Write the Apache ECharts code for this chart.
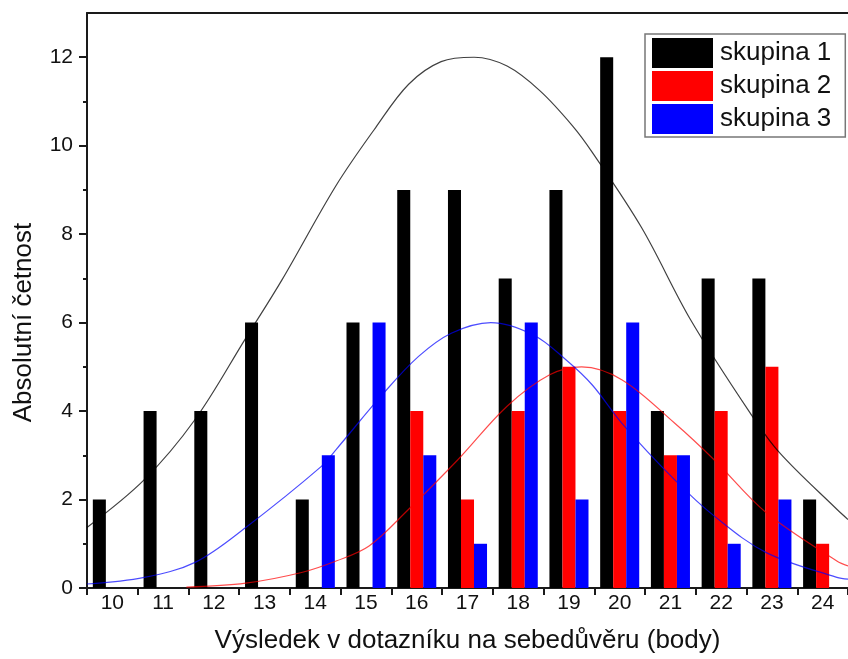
<!DOCTYPE html>
<html>
<head>
<meta charset="utf-8">
<script src="https://cdn.jsdelivr.net/npm/echarts@6/dist/echarts.min.js"></script>
<style>
    html, body { margin: 0; padding: 0; background: #fff; }
    #chart { width: 848px; height: 659px; }
</style>
</head>
<body>
<div id="chart"></div>
<script>
// body score categories
const categories = ['10', '11', '12', '13', '14', '15', '16', '17', '18', '19', '20', '21', '22', '23', '24']
const skupina1 = [2, 4, 4, 6, 2, 6, 9, 9, 7, 9, 12, 4, 7, 7, 2]
const skupina2 = [0, 0, 0, 0, 0, 0, 4, 2, 4, 5, 4, 3, 4, 5, 1]
const skupina3 = [0, 0, 0, 0, 3, 6, 3, 1, 6, 2, 6, 3, 1, 2, 0]
const yTicks = [0, 2, 4, 6, 8, 10, 12]
const yMinorTicks = [1, 3, 5, 7, 9, 11]

// fitted curves, points [score, count]
const fit1 = [[9.5, 1.37], [10.63, 2.45], [11.63, 3.81], [12.63, 5.65], [13.34, 6.96], [14.41, 9.1],
    [15.19, 10.41], [15.84, 11.39], [16.48, 11.9], [17.13, 12.0], [17.78, 11.8], [18.43, 11.24],
    [19.07, 10.45], [19.46, 9.85], [20.43, 8.15], [21.4, 6.06], [22.57, 3.96], [23.15, 3.06],
    [24.28, 1.78], [24.5, 1.55]]
const fit2 = [[11.46, 0.02], [12.63, 0.11], [13.73, 0.35], [14.41, 0.61], [15.06, 0.95], [15.84, 1.78],
    [16.81, 2.9], [17.78, 4.11], [18.62, 4.82], [19.25, 5.0], [20.04, 4.71], [21.08, 3.73],
    [21.86, 2.9], [22.89, 1.7], [24.28, 0.61], [24.5, 0.5]]
const fit3 = [[9.5, 0.09], [10.63, 0.24], [11.63, 0.58], [12.63, 1.37], [14.12, 2.75], [14.41, 3.13],
    [15.32, 4.37], [16.03, 5.23], [16.68, 5.76], [17.46, 6.0], [18.3, 5.72], [18.94, 5.16],
    [19.46, 4.59], [20.04, 3.73], [21.08, 2.45], [21.86, 1.63], [22.89, 0.8], [24.28, 0.24], [24.5, 0.2]]

const font = 'Liberation Sans, Arial, sans-serif'
const frame = { color: '#1a1a1a', width: 2 }

const chart = echarts.init(document.getElementById('chart'))

function barSeries(name, data, color) {
    return {
        name: name,
        type: 'bar',
        data: data,
        barGap: 0,
        barCategoryGap: '23%',
        itemStyle: { color: color },
        animation: false,
    }
}

function fitSeries(name, data, color, opacity) {
    return {
        name: name,
        type: 'line',
        xAxisIndex: 1,
        yAxisIndex: 0,
        data: data,
        smooth: 0.35,
        showSymbol: false,
        silent: true,
        z: 5,
        lineStyle: { color: color, width: 1.2, opacity: opacity },
        animation: false,
    }
}

chart.setOption({
    backgroundColor: '#fff',
    textStyle: { fontFamily: font },
    grid: { left: 87, top: 13, width: 772.5, height: 576 },
    legend: {
        data: ['skupina 1', 'skupina 2', 'skupina 3'],
        orient: 'vertical',
        left: 645,
        top: 34,
        icon: 'rect',
        itemWidth: 61,
        itemHeight: 30,
        itemGap: 3,
        padding: [4, 14, 3, 7],
        borderColor: '#777',
        borderWidth: 1.5,
        textStyle: { fontSize: 26, color: '#111', fontFamily: font, padding: [0, 0, 0, 2] },
    },
    xAxis: [
        {
            type: 'category',
            data: categories,
            boundaryGap: true,
            axisLine: { lineStyle: frame },
            axisTick: { show: true, length: 7, inside: false, lineStyle: frame },
            axisLabel: { interval: 0, fontSize: 21, color: '#111', margin: 5 },
            name: 'Výsledek v dotazníku na sebedůvěru (body)',
            nameLocation: 'middle',
            nameGap: 40,
            nameTextStyle: { fontSize: 26, color: '#111', fontFamily: font },
        },
        {
            type: 'value',
            min: 9.5,
            max: 24.5,
            position: 'top',
            axisLine: { show: true, onZero: false, lineStyle: frame },
            axisTick: { show: false },
            axisLabel: { show: false },
            splitLine: { show: false },
        },
    ],
    yAxis: [
        {
            type: 'value',
            min: 0,
            max: 13,
            axisLine: { show: true, lineStyle: frame },
            axisTick: { show: true, length: 8, customValues: yTicks, lineStyle: frame },
            axisLabel: { customValues: yTicks, fontSize: 21, color: '#111', margin: 14 },
            splitLine: { show: false },
            name: 'Absolutní četnost',
            nameLocation: 'middle',
            nameGap: 50,
            nameTextStyle: { fontSize: 26, color: '#111', fontFamily: font, padding: [0, 44, 0, 0] },
        },
        {
            type: 'value',
            min: 0,
            max: 13,
            position: 'left',
            axisLine: { show: false },
            axisTick: { show: true, length: 4, customValues: yMinorTicks, lineStyle: frame },
            axisLabel: { show: false },
            splitLine: { show: false },
        },
    ],
    series: [
        barSeries('skupina 1', skupina1, '#000000'),
        barSeries('skupina 2', skupina2, '#ff0000'),
        barSeries('skupina 3', skupina3, '#0000ff'),
        fitSeries('fit 1', fit1, '#000000', 0.75),
        fitSeries('fit 2', fit2, '#ff0000', 0.7),
        fitSeries('fit 3', fit3, '#0000ff', 0.7),
    ],
})
</script>
</body>
</html>
